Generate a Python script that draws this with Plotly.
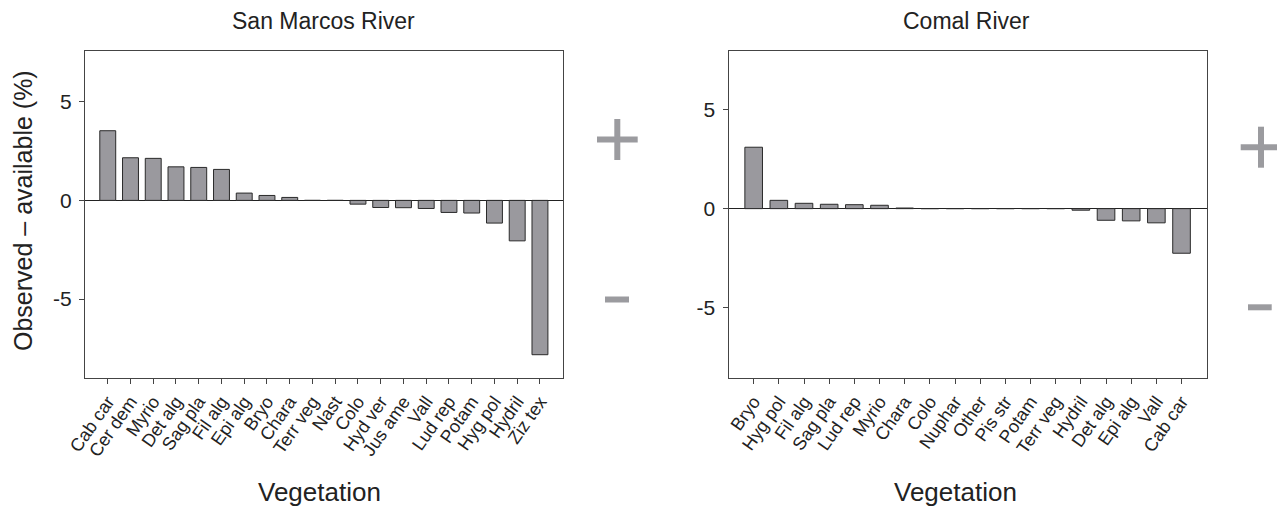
import plotly.graph_objects as go

# page has an 8px body margin, so the figure is shifted by OFF px
OFF = 8
PAGE_W, PAGE_H = 1285, 507
W, H = PAGE_W - OFF, PAGE_H - OFF

# ---- data ----
sm_categories = ["Cab car", "Cer dem", "Myrio", "Det alg", "Sag pla", "Fil alg", "Epi alg",
                 "Bryo", "Chara", "Terr veg", "Nast", "Colo", "Hyd ver", "Jus ame", "Vall",
                 "Lud rep", "Potam", "Hyg pol", "Hydril", "Ziz tex"]
sm_values = [3.53, 2.16, 2.13, 1.70, 1.67, 1.57, 0.37, 0.25, 0.15, 0.0, 0.0, -0.19, -0.36,
             -0.37, -0.41, -0.61, -0.64, -1.15, -2.05, -7.82]

cr_categories = ["Bryo", "Hyg pol", "Fil alg", "Sag pla", "Lud rep", "Myrio", "Chara", "Colo",
                 "Nuphar", "Other", "Pis str", "Potam", "Terr veg", "Hydril", "Det alg",
                 "Epi alg", "Vall", "Cab car"]
cr_values = [3.11, 0.42, 0.27, 0.22, 0.20, 0.17, 0.03, 0.0, 0.0, 0.0, 0.0, 0.0, 0.0, -0.08,
             -0.59, -0.62, -0.72, -2.26]

y_tickvals = [-5, 0, 5]
y_ticktext = ["-5", "0", "5"]

FONT = "Liberation Sans, Arial, Helvetica, sans-serif"
BAR_COLOR = "#9a999e"
SIGN_COLOR = "#9b9b9f"

fig = go.Figure()

fig.add_trace(go.Bar(x=sm_categories, y=sm_values, width=0.70,
                     marker=dict(color=BAR_COLOR, line=dict(color="#2a2a2a", width=1)),
                     xaxis="x", yaxis="y", showlegend=False))
fig.add_trace(go.Bar(x=cr_categories, y=cr_values, width=0.70,
                     marker=dict(color=BAR_COLOR, line=dict(color="#2a2a2a", width=1)),
                     xaxis="x2", yaxis="y2", showlegend=False))


def px_x(p):
    return (p - OFF) / W


def px_y(p):
    return 1 - (p - OFF) / H


xaxis_common = dict(type="category", showline=True, mirror=True, linecolor="#444",
                    linewidth=1, ticks="outside", ticklen=5, tickcolor="#444",
                    tickangle=-55, tickfont=dict(size=18, color="#222", family=FONT),
                    showgrid=False, zeroline=False, fixedrange=True, automargin=False)
yaxis_common = dict(showline=True, mirror=True, linecolor="#444", linewidth=1,
                    ticks="outside", ticklen=5, tickcolor="#444",
                    tickvals=y_tickvals, ticktext=y_ticktext, ticklabelstandoff=3,
                    tickfont=dict(size=21, color="#222", family=FONT),
                    showgrid=False, zeroline=True, zerolinecolor="#222", zerolinewidth=1,
                    fixedrange=True, automargin=False)

fig.update_layout(
    template="none",
    width=W, height=H,
    margin=dict(l=0, r=0, t=0, b=0, pad=0),
    paper_bgcolor="white", plot_bgcolor="white",
    font=dict(family=FONT, color="#222"),
    xaxis=dict(domain=[px_x(85), px_x(562.7)], range=[-1.0, len(sm_categories)],
               tickmode="array", tickvals=sm_categories,
               anchor="y", **xaxis_common),
    yaxis=dict(domain=[px_y(378), px_y(51)], range=[-9.0, 7.57], anchor="x", **yaxis_common),
    xaxis2=dict(domain=[px_x(728.5), px_x(1206.7)], range=[-1.0, len(cr_categories)],
                tickmode="array", tickvals=cr_categories,
                anchor="y2", **xaxis_common),
    yaxis2=dict(domain=[px_y(378), px_y(50.7)], range=[-8.58, 8.0], anchor="x2", **yaxis_common),
)

annotations = [
    dict(text="San Marcos River", x=px_x(323), y=px_y(21), font=dict(size=23)),
    dict(text="Comal River", x=px_x(966), y=px_y(21), font=dict(size=23)),
    dict(text="Vegetation", x=px_x(319), y=px_y(492), font=dict(size=26)),
    dict(text="Vegetation", x=px_x(955), y=px_y(492), font=dict(size=26)),
    dict(text="Observed \u2013 available (%)", x=px_x(23), y=px_y(211), textangle=-90,
         font=dict(size=25)),
]
for a in annotations:
    a.update(xref="paper", yref="paper", showarrow=False, xanchor="center", yanchor="middle")
    a["font"].update(family=FONT, color="#222")
fig.update_layout(annotations=annotations)

# plus / minus signs
shapes = []


def seg(x0, y0, x1, y1):
    shapes.append(dict(type="line", xref="paper", yref="paper",
                       x0=px_x(x0), y0=px_y(y0), x1=px_x(x1), y1=px_y(y1),
                       line=dict(color=SIGN_COLOR, width=6)))


# left panel signs
seg(617.3, 119, 617.3, 160)
seg(597, 139.5, 637.7, 139.5)
seg(605, 299.5, 629, 299.5)
# right panel signs
seg(1261, 126.7, 1261, 167.7)
seg(1240.7, 147.3, 1281.7, 147.3)
seg(1248, 307.3, 1271.7, 307.3)

fig.update_layout(shapes=shapes)

fig.write_html("out.html")
